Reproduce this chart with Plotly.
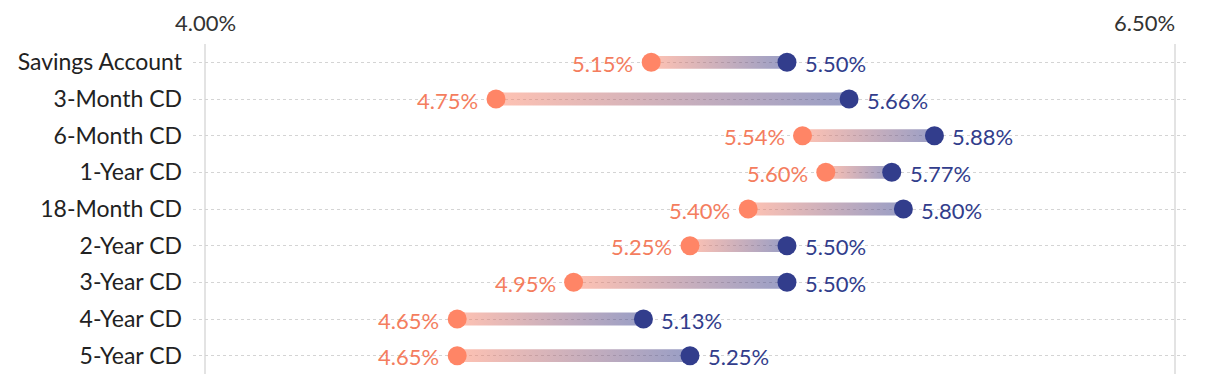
import plotly.graph_objects as go

categories = ["Savings Account", "3-Month CD", "6-Month CD", "1-Year CD", "18-Month CD",
              "2-Year CD", "3-Year CD", "4-Year CD", "5-Year CD"]
low_rates = [5.15, 4.75, 5.54, 5.60, 5.40, 5.25, 4.95, 4.65, 4.65]
high_rates = [5.50, 5.66, 5.88, 5.77, 5.80, 5.50, 5.50, 5.13, 5.25]
x_tick_vals = [4.0, 6.5]
x_tick_text = ["4.00%", "6.50%"]

CORAL = "#ff8566"
CORAL_TXT = "#f47d5e"
NAVY = "#323d8c"
FONT = "Lato"
FS = 22
HALF = 0.175

ypos = list(range(len(categories)))
fig = go.Figure()

# gradient connectors
for i, (lo, hi) in enumerate(zip(low_rates, high_rates)):
    fig.add_trace(go.Scatter(
        x=[lo, hi, hi, lo, lo],
        y=[i - HALF, i - HALF, i + HALF, i + HALF, i - HALF],
        mode="lines", line=dict(width=0), fill="toself",
        fillgradient=dict(type="horizontal",
                          colorscale=[[0, "rgba(255,133,102,0.5)"], [1, "rgba(50,61,140,0.5)"]]),
        hoverinfo="skip", showlegend=False))

fig.add_trace(go.Scatter(x=low_rates, y=ypos, mode="markers",
                         marker=dict(size=19, color=CORAL), showlegend=False))
fig.add_trace(go.Scatter(x=high_rates, y=ypos, mode="markers",
                         marker=dict(size=19, color=NAVY), showlegend=False))

for i, (lo, hi) in enumerate(zip(low_rates, high_rates)):
    fig.add_annotation(x=lo, y=i, text=f"{lo:.2f}%", xanchor="right", xshift=-16, yshift=-1,
                       showarrow=False, font=dict(family=FONT, size=FS, color=CORAL_TXT))
    fig.add_annotation(x=hi, y=i, text=f"{hi:.2f}%", xanchor="left", xshift=16, yshift=-1,
                       showarrow=False, font=dict(family=FONT, size=FS, color=NAVY))

# x tick labels (first centered, last right-aligned to its gridline)
for j, (tv, tt) in enumerate(zip(x_tick_vals, x_tick_text)):
    last = j == len(x_tick_vals) - 1
    fig.add_annotation(x=tv, y=1, yref="paper", text=tt, showarrow=False,
                       xanchor="right" if last else "center", yanchor="bottom",
                       xshift=2 if last else 0, yshift=6,
                       font=dict(family=FONT, size=FS, color="#333"))

# page body has an 8px default margin, so the figure is sized/offset accordingly
fig.update_layout(
    width=1212, height=374,
    margin=dict(l=185, r=33, t=36, b=8),
    plot_bgcolor="white", paper_bgcolor="white",
    font=dict(family=FONT, size=FS, color="#222"),
    xaxis=dict(side="top", range=[3.969, 6.531], tickvals=x_tick_vals,
               showticklabels=False,
               showgrid=True, gridcolor="#e3e3e3", gridwidth=2, zeroline=False,
               showline=False, ticks="", automargin=False),
    yaxis=dict(range=[8.5, -0.5], tickvals=ypos, ticktext=categories,
               showgrid=True, gridcolor="#d4d4d4", griddash="dot", gridwidth=1,
               zeroline=False, showline=False, ticks="", ticklabelstandoff=10,
               tickfont=dict(color="#222", size=23), automargin=False),
)

fig.write_html("out.html")
